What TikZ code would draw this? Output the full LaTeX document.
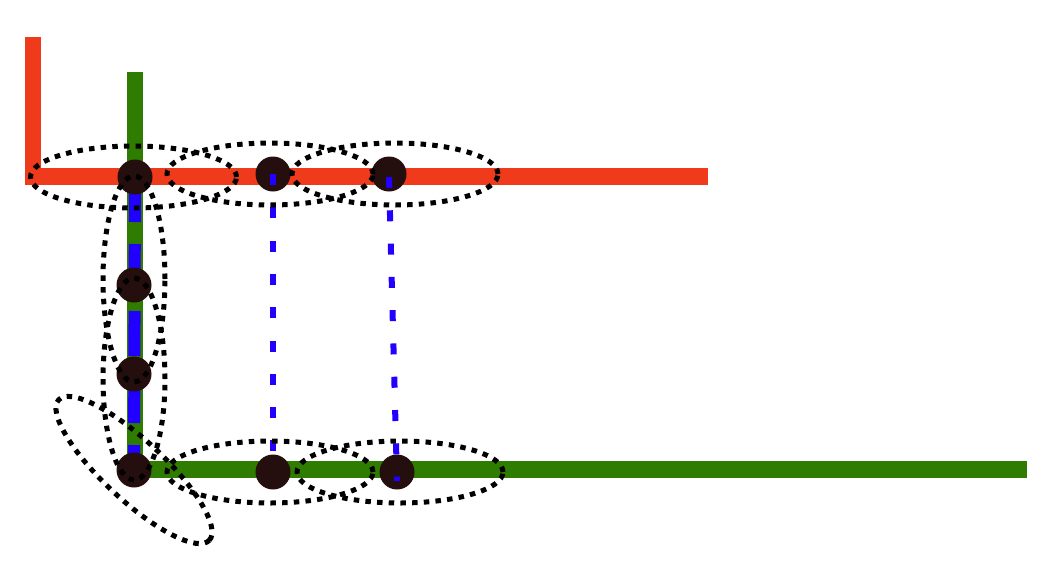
\documentclass[tikz,border=0pt]{standalone}
\usepackage{tikz}
\usetikzlibrary{positioning,backgrounds}

\definecolor{rougeligne}{RGB}{240,58,28}
\definecolor{vertligne}{RGB}{47,125,0}
\definecolor{bleuligne}{RGB}{34,0,255}
\definecolor{sommetcol}{RGB}{37,15,14}

\begin{document}
\begin{tikzpicture}[x=1pt, y=-1pt,
            every node/.style={circle, fill=sommetcol, minimum size=35pt, inner sep=0pt},
            rouge/.style={draw=rougeligne, line width=16.5pt},
            vert/.style={draw=vertligne, line width=16.5pt},
            bleu/.style={draw=bleuligne, line width=12pt, dash pattern=on 45pt off 22pt},
            bleufin/.style={draw=bleuligne, line width=6pt, dash pattern=on 11pt off 22.3pt},
            groupe/.style={draw=black, line width=5pt, dash pattern=on 5.5pt off 6.2pt}]
            \useasboundingbox (0,0) rectangle (1062,574);
            \node (A) at (135,177) {};
            \node (B) at (273,174) {};
            \node (C) at (389,174) {};
            \node (D) at (134,285) {};
            \node (E) at (134,374) {};
            \node (F) at (134,470) {};
            \node (G) at (273,472) {};
            \node (H) at (397,472) {};
            \begin{scope}[on background layer]
                \draw[rouge] (33,37) |- (708,176.5);
                \draw[vert]  (135,72) |- (1027,469.5);
                \draw[bleu]  (A.center) -- (F.center);
            \end{scope}
            \draw[bleufin] (B.center) -- (G.center);
            \draw[bleufin] ([yshift=-3pt]C.center) -- ([yshift=-9pt]H.center);
            % les groupes
            \foreach \n/\dx in {A/-1.5, B/-3, C/6, G/-3, H/3}
                \draw[groupe] ([xshift=\dx pt]\n.center) ellipse [x radius=103pt, y radius=31pt];
            \draw[groupe] ([yshift=6pt]D.center) ellipse [x radius=31pt, y radius=103pt];
            \draw[groupe] ([yshift=-5pt]E.center) ellipse [x radius=31pt, y radius=101pt];
            \draw[groupe, rotate around={-43:(F.center)}] (F.center) ellipse [x radius=103pt, y radius=30pt];
        \end{tikzpicture}
\end{document}
